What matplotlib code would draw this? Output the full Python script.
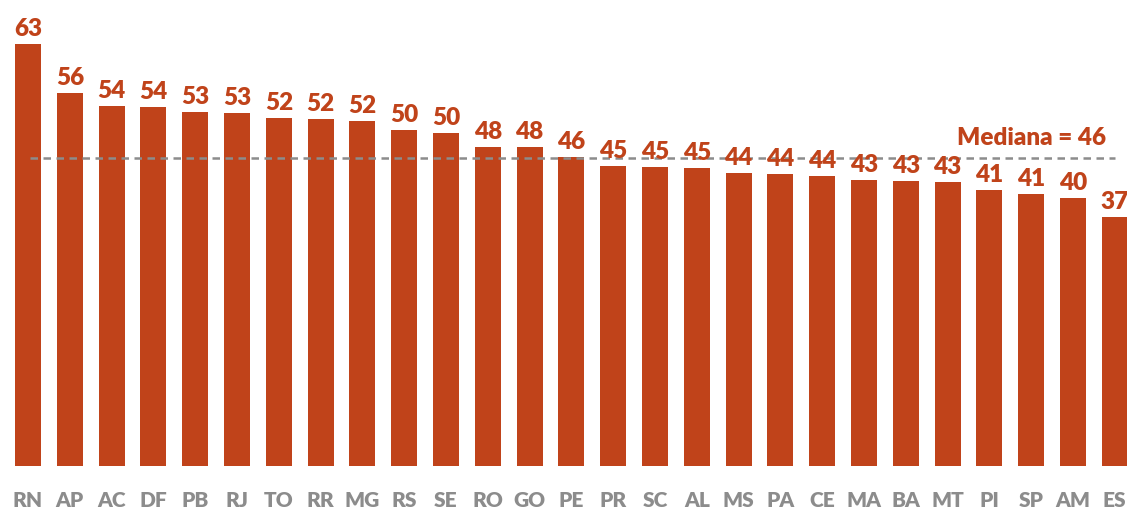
import matplotlib
matplotlib.use('Agg')
import matplotlib.pyplot as plt

# estados e valores
estados = ['RN', 'AP', 'AC', 'DF', 'PB', 'RJ', 'TO', 'RR', 'MG', 'RS', 'SE', 'RO', 'GO', 'PE',
           'PR', 'SC', 'AL', 'MS', 'PA', 'CE', 'MA', 'BA', 'MT', 'PI', 'SP', 'AM', 'ES']
valores = [63.0, 55.6, 53.7, 53.6, 52.8, 52.7, 51.9, 51.8, 51.4, 50.1, 49.6, 47.6, 47.5, 46.1,
           44.8, 44.6, 44.5, 43.7, 43.6, 43.3, 42.7, 42.5, 42.4, 41.2, 40.5, 39.9, 37.2]
rotulos = ['63', '56', '54', '54', '53', '53', '52', '52', '52', '50', '50', '48', '48', '46',
           '45', '45', '45', '44', '44', '44', '43', '43', '43', '41', '41', '40', '37']
mediana = 46

cor = '#C0431A'
cinza = '#8C8C8C'
fonte = ['Lato', 'DejaVu Sans']

W, H = 1127, 513
fig = plt.figure(figsize=(W / 100, H / 100), dpi=100)
ax = fig.add_axes([0, 47 / H, 1, 466 / H])

x = list(range(len(estados)))
ax.bar(x, valores, width=0.62, color=cor)

passo = 41.8
ax.set_xlim(-28 / passo, (W - 28) / passo)
ax.set_ylim(0, 466 / 6.706)

for xi, v, r in zip(x, valores, rotulos):
    ax.annotate(r, (xi, v), xytext=(0, 8), textcoords='offset pixels',
                ha='center', va='baseline', color=cor, fontsize=17.5,
                fontweight='heavy', family=fonte)

ax.plot([0.05, 26.0], [mediana, mediana], color='#8C8C8C', lw=1.8,
        linestyle=(0, (3, 2.2)))
ax.text(24.0, mediana + 1.9, 'Mediana = %d' % mediana, color=cor, fontsize=17.5,
        fontweight='heavy', family=fonte, ha='center', va='baseline')

ax.set_xticks(x)
ax.set_xticklabels(estados, color=cinza, fontsize=15, fontweight='heavy', family=fonte)
ax.tick_params(axis='x', length=0, pad=18)
ax.set_yticks([])
for s in ax.spines.values():
    s.set_visible(False)

fig.savefig('out.png', dpi=100, facecolor='w')
